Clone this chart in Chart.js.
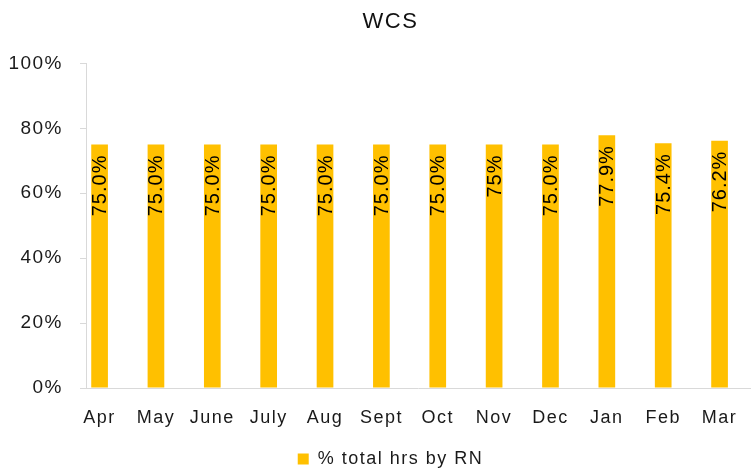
<!DOCTYPE html>
<html>
<head>
<meta charset="utf-8">
<script src="https://cdn.jsdelivr.net/npm/chart.js@4"></script>
<style>
  html, body { margin: 0; padding: 0; background: #fff; }
  #wrap { width: 751px; height: 472px; overflow: hidden; }
  #inner { width: 781px; height: 472px; }
</style>
</head>
<body>
<div id="wrap"><div id="inner"><canvas id="wcsChart"></canvas></div></div>
<script>
const months = ['Apr', 'May', 'June', 'July', 'Aug', 'Sept', 'Oct', 'Nov', 'Dec', 'Jan', 'Feb', 'Mar'];
const rnShare = [75.0, 75.0, 75.0, 75.0, 75.0, 75.0, 75.0, 75.0, 75.0, 77.9, 75.4, 76.2];
const barLabels = ['75.0%', '75.0%', '75.0%', '75.0%', '75.0%', '75.0%', '75.0%', '75%', '75.0%', '77.9%', '75.4%', '76.2%'];

const FONT = "'Liberation Sans', Arial, sans-serif";

// spaced-out lettering like the original; x labels (drawn last) get a wider spacing
const spacing = {
    id: 'spacing',
    beforeLayout(chart) { chart.ctx.letterSpacing = '1.5px'; },
    beforeDraw(chart) { chart.ctx.letterSpacing = '1.5px'; },
    afterDatasetsDraw(chart) { chart.ctx.letterSpacing = '3.5px'; }
};

// rotated value labels sitting at the top inside each bar
const barText = {
    id: 'barText',
    afterDatasetsDraw(chart) {
        const ctx = chart.ctx;
        const meta = chart.getDatasetMeta(0);
        meta.data.forEach((bar, i) => {
            ctx.save();
            ctx.letterSpacing = '1px';
            ctx.translate(bar.x, bar.y + 10);
            ctx.rotate(-Math.PI / 2);
            ctx.font = `20px ${FONT}`;
            ctx.fillStyle = '#000';
            ctx.textAlign = 'right';
            ctx.textBaseline = 'middle';
            ctx.fillText(barLabels[i], 0, 1);
            ctx.restore();
        });
    }
};

new Chart(document.getElementById('wcsChart'), {
    type: 'bar',
    data: {
        datasets: [{
            label: '% total hrs by RN',
            data: rnShare.map((v, i) => ({ x: i, y: v })),
            backgroundColor: '#FFC000',
            categoryPercentage: 1,
            barPercentage: 0.296
        }]
    },
    options: {
        responsive: true,
        maintainAspectRatio: false,
        animation: false,
        layout: { padding: { left: 0, right: 0, top: 0, bottom: -6 } },
        scales: {
            y: {
                min: 0, max: 100,
                afterFit: (s) => { s.width = 86; },
                grid: { drawOnChartArea: false, drawTicks: true, tickLength: 6, color: '#d9d9d9' },
                border: { display: true, color: '#d9d9d9', width: 1 },
                ticks: { stepSize: 20, padding: 17, color: '#1a1a1a', font: { size: 19, family: FONT }, callback: (v) => v + '%' }
            },
            // empty right-hand strip, keeps the plot edge at the window edge
            yRight: {
                position: 'right',
                min: 0, max: 100,
                afterFit: (s) => { s.width = 31; },
                grid: { display: false },
                border: { display: false },
                ticks: { display: false }
            },
            x: {
                type: 'linear',
                offset: false,
                min: -0.241, max: 11.54,
                z: 1,
                afterFit: (s) => { s.height = 62; },
                grid: { display: false },
                border: { display: true, color: '#d9d9d9', width: 1 },
                ticks: {
                    stepSize: 1, includeBounds: false, padding: 11, color: '#1a1a1a',
                    maxRotation: 0, autoSkip: false, font: { size: 18, family: FONT },
                    callback: (v) => months[v] ?? ''
                }
            }
        },
        plugins: {
            title: { display: true, text: 'WCS', color: '#111', font: { size: 22, family: FONT, weight: 'normal' }, padding: { top: 9, bottom: 28 } },
            legend: { position: 'bottom', labels: { color: '#1a1a1a', font: { size: 18, family: FONT }, boxWidth: 11, boxHeight: 11, padding: 0 } },
            tooltip: { enabled: false }
        }
    },
    plugins: [barText, spacing]
});
</script>
</body>
</html>
